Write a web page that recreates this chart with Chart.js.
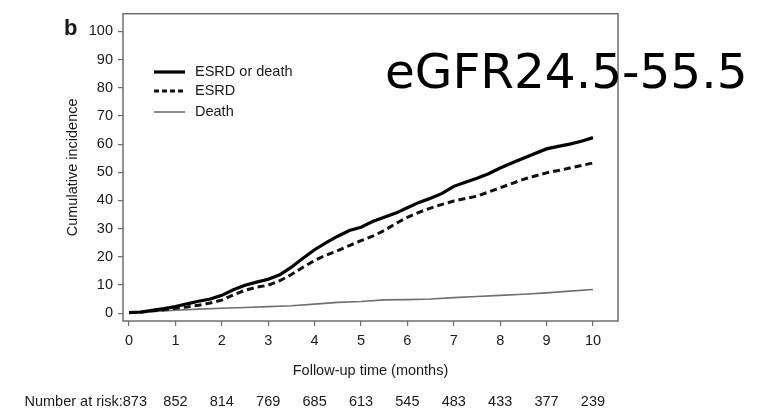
<!DOCTYPE html>
<html>
<head>
<meta charset="utf-8">
<script src="https://cdn.jsdelivr.net/npm/chart.js@4.4.1/dist/chart.umd.min.js"></script>
<style>
  html, body { margin: 0; padding: 0; background: #fff; }
  #wrap { width: 762px; height: 408px; position: relative; }
</style>
</head>
<body>
<div id="wrap"><canvas id="kmChart"></canvas></div>
<script>
// follow-up time (months)
const months = [0, 0.25, 0.5, 0.75, 1, 1.25, 1.5, 1.75, 2, 2.25, 2.5, 2.75, 3, 3.25, 3.5, 3.75, 4, 4.25, 4.5, 4.75,
                5, 5.25, 5.5, 5.75, 6, 6.25, 6.5, 6.75, 7, 7.25, 7.5, 7.75, 8, 8.25, 8.5, 8.75, 9, 9.25, 9.5, 9.75, 10];
const esrdOrDeath = [0.2, 0.4, 1.0, 1.6, 2.3, 3.3, 4.2, 5.0, 6.3, 8.3, 9.9, 11.0, 12.0, 13.6, 16.3, 19.5, 22.5, 25.0, 27.3, 29.3,
                     30.5, 32.5, 34.0, 35.5, 37.4, 39.3, 40.8, 42.5, 45.0, 46.5, 47.9, 49.5, 51.5, 53.3, 55.0, 56.7, 58.3, 59.2, 60.0, 61.0, 62.3];
const esrd = [0.2, 0.3, 0.8, 1.2, 1.7, 2.2, 2.8, 3.6, 4.6, 6.5, 8.1, 9.2, 9.9, 11.5, 13.7, 16.3, 18.7, 20.6, 22.2, 24.0,
              25.7, 27.3, 29.3, 31.8, 34.0, 35.8, 37.3, 38.6, 39.8, 40.7, 41.5, 43.0, 44.5, 46.0, 47.5, 48.7, 49.8, 50.6, 51.5, 52.4, 53.3];
const deathMonths = [0, 0.5, 1, 1.5, 2, 2.5, 3, 3.5, 4, 4.5, 5, 5.5, 6, 6.5, 7, 7.5, 8, 8.5, 9, 9.5, 10];
const death = [0, 0.5, 1.0, 1.4, 1.7, 2.0, 2.3, 2.6, 3.2, 3.8, 4.1, 4.7, 4.8, 5.0, 5.5, 5.9, 6.3, 6.7, 7.2, 7.8, 8.4];

const xTicks = [0, 1, 2, 3, 4, 5, 6, 7, 8, 9, 10];
const yTicks = [0, 10, 20, 30, 40, 50, 60, 70, 80, 90, 100];
const atRisk = [873, 852, 814, 769, 685, 613, 545, 483, 433, 377, 239];

const FONT = '"Liberation Sans", Arial, sans-serif';
const TXT = '#1a1a1a';

function pts(xs, ys) {
  return xs.map((x, i) => ({ x: x, y: ys[i] }));
}

const extras = {
  id: 'extras',
  beforeDatasetsDraw(chart) {
    const { ctx, chartArea: a } = chart;
    ctx.save();
    ctx.strokeStyle = '#6e6e6e';
    ctx.lineWidth = 1.5;
    ctx.strokeRect(a.left, a.top, a.right - a.left, a.bottom - a.top);
    ctx.restore();
  },
  afterDraw(chart) {
    const { ctx } = chart;
    const xs = chart.scales.x;
    ctx.save();
    // legend
    ctx.font = '14.5px ' + FONT;
    ctx.textBaseline = 'middle';
    const rows = [72, 91, 112];
    chart.data.datasets.forEach((ds, i) => {
      ctx.beginPath();
      ctx.strokeStyle = ds.borderColor;
      ctx.lineWidth = ds.borderWidth;
      ctx.setLineDash(i === 1 ? [5, 3] : []);
      ctx.moveTo(154, rows[i]);
      ctx.lineTo(185, rows[i]);
      ctx.stroke();
      ctx.setLineDash([]);
      ctx.fillStyle = TXT;
      ctx.textAlign = 'left';
      ctx.fillText(ds.label, 195, rows[i]);
    });
    // number at risk
    ctx.textAlign = 'right';
    ctx.fillText('Number at risk:' + atRisk[0], 147, 402);
    ctx.textAlign = 'center';
    for (let i = 1; i < atRisk.length; i++) {
      ctx.fillText(String(atRisk[i]), xs.getPixelForValue(xTicks[i]), 402);
    }
    // panel letter
    ctx.font = 'bold 22px ' + FONT;
    ctx.textAlign = 'left';
    ctx.textBaseline = 'alphabetic';
    ctx.fillText('b', 64, 35);
    // overlay title
    ctx.fillStyle = '#000';
    ctx.font = '48.5px "DejaVu Sans", sans-serif';
    ctx.fillText('eGFR24.5-55.5', 385, 88);
    ctx.restore();
  }
};

new Chart(document.getElementById('kmChart'), {
  type: 'line',
  data: {
    datasets: [
      { label: 'ESRD or death', data: pts(months, esrdOrDeath), borderColor: '#000', borderWidth: 3.2 },
      { label: 'ESRD', data: pts(months, esrd), borderColor: '#111', borderWidth: 3, borderDash: [7, 4] },
      { label: 'Death', data: pts(deathMonths, death), borderColor: '#707070', borderWidth: 1.6 }
    ]
  },
  options: {
    responsive: true,
    maintainAspectRatio: false,
    animation: false,
    elements: { point: { radius: 0 }, line: { tension: 0, fill: false } },
    layout: { padding: { left: 60, right: 144, top: 11, bottom: 24 } },
    plugins: { legend: { display: false }, tooltip: { enabled: false } },
    scales: {
      x: {
        type: 'linear', min: -0.13, max: 10.54,
        afterBuildTicks: s => { s.ticks = xTicks.map(v => ({ value: v })); },
        afterFit: s => { s.height = 63; },
        grid: { drawOnChartArea: false, tickLength: 5, color: '#6e6e6e', lineWidth: 1.2 },
        border: { display: false },
        ticks: { font: { size: 14.5, family: FONT }, color: TXT, padding: 6, maxRotation: 0 },
        title: { display: true, text: 'Follow-up time (months)', font: { size: 14.5, family: FONT }, color: TXT }
      },
      y: {
        min: -2.8, max: 106.3,
        afterBuildTicks: s => { s.ticks = yTicks.map(v => ({ value: v })); },
        afterFit: s => { s.width = 63; },
        grid: { drawOnChartArea: false, tickLength: 5, color: '#6e6e6e', lineWidth: 1.2 },
        border: { display: false },
        ticks: { font: { size: 14.5, family: FONT }, color: TXT, padding: 5 },
        title: { display: true, text: 'Cumulative incidence', font: { size: 14.5, family: FONT }, color: TXT }
      }
    }
  },
  plugins: [extras]
});
</script>
</body>
</html>
